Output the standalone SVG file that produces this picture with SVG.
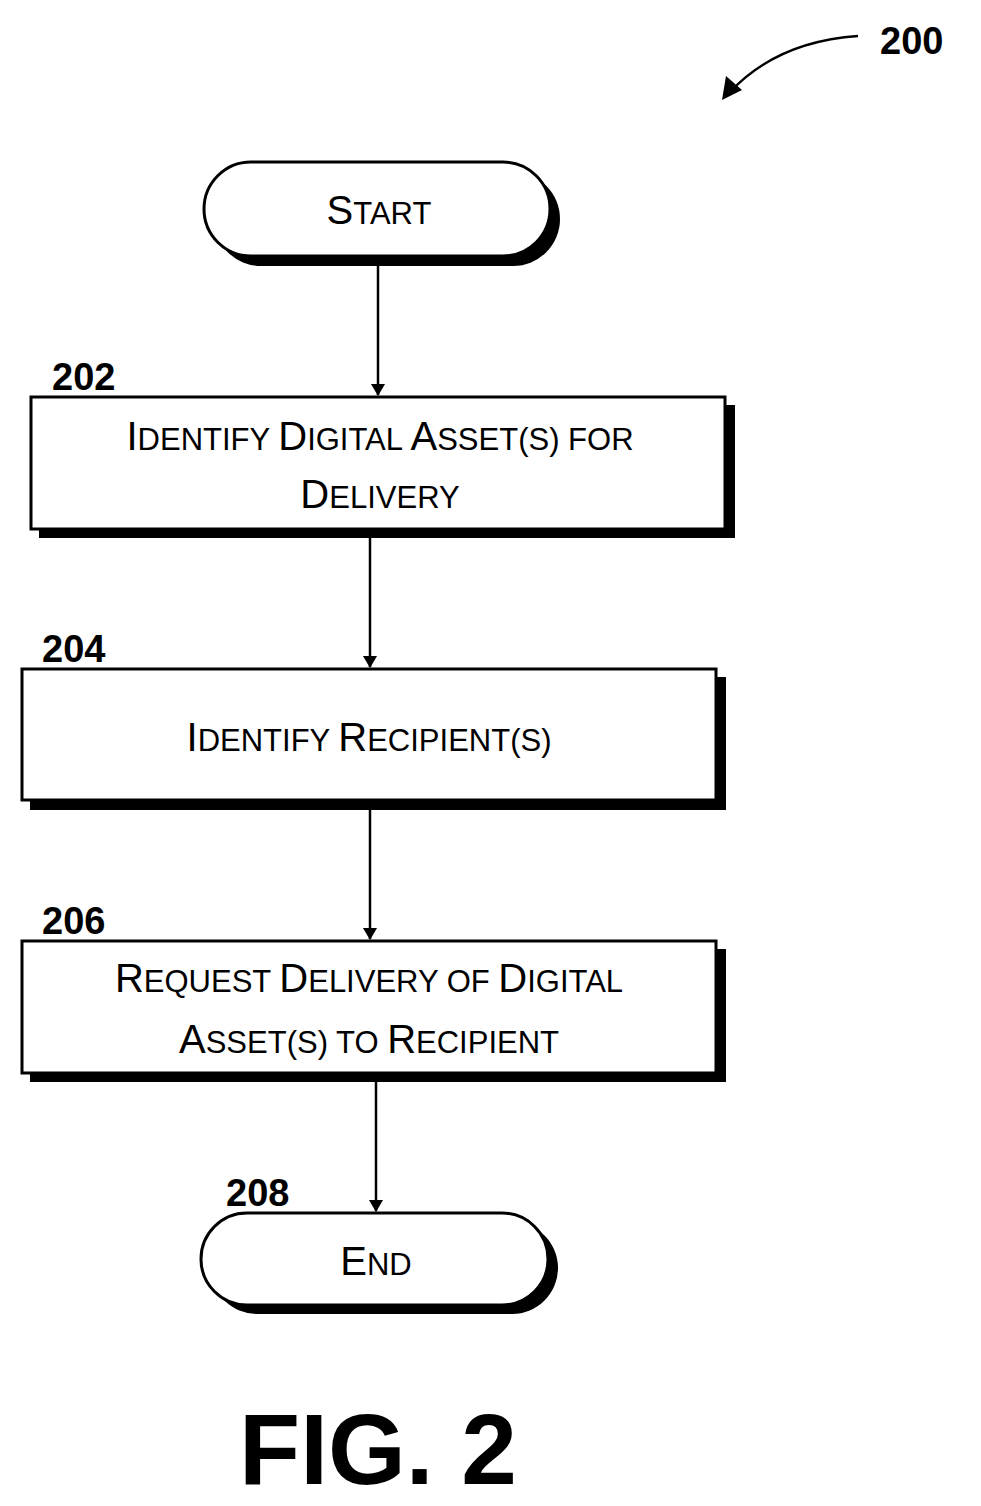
<svg xmlns="http://www.w3.org/2000/svg" width="981" height="1506" viewBox="0 0 981 1506">
<style>
.sh{fill:#000}
.bx{fill:#fff;stroke:#000;stroke-width:3}
.t{font-family:"Liberation Sans",Arial,sans-serif;font-size:40px;text-anchor:middle;fill:#000}
.s{font-size:31px}
.lb{font-family:"Liberation Sans",Arial,sans-serif;font-weight:bold;font-size:38px;fill:#000}
.c{stroke:#000;stroke-width:2.5;fill:none}
</style>
<defs><marker id="a" markerWidth="12" markerHeight="14" refX="11" refY="7" orient="auto" markerUnits="userSpaceOnUse"><path d="M0,0 L12,7 L0,14 Z" fill="#000"/></marker></defs>
<g id="ref200">
<text class="lb" x="880" y="54" font-size="42">200</text>
<path class="c" d="M858,36 C800,40 760,60 730,92" stroke-width="3"/>
<path d="M722,100 L726,76 L742,90 Z" fill="#000"/>
</g>
<g id="start">
<rect class="sh" x="214" y="172" width="346" height="94" rx="47"/>
<rect class="bx" x="204" y="162" width="346" height="94" rx="47"/>
<text class="t" x="379" y="224">S<tspan class="s">TART</tspan></text>
</g>
<g id="n202">
<text class="lb" x="52" y="390">202</text>
<rect class="sh" x="39" y="405" width="696" height="133"/>
<rect class="bx" x="31" y="397" width="694" height="132"/>
<text class="t" x="380" y="450">I<tspan class="s">DENTIFY </tspan>D<tspan class="s">IGITAL </tspan>A<tspan class="s">SSET(S) FOR</tspan></text>
<text class="t" x="380" y="508">D<tspan class="s">ELIVERY</tspan></text>
</g>
<g id="n204">
<text class="lb" x="42" y="662">204</text>
<rect class="sh" x="30" y="677" width="696" height="133"/>
<rect class="bx" x="22" y="669" width="694" height="131"/>
<text class="t" x="369" y="751">I<tspan class="s">DENTIFY </tspan>R<tspan class="s">ECIPIENT(S)</tspan></text>
</g>
<g id="n206">
<text class="lb" x="42" y="934">206</text>
<rect class="sh" x="30" y="949" width="696" height="133"/>
<rect class="bx" x="22" y="941" width="694" height="132"/>
<text class="t" x="369" y="992">R<tspan class="s">EQUEST </tspan>D<tspan class="s">ELIVERY OF </tspan>D<tspan class="s">IGITAL</tspan></text>
<text class="t" x="369" y="1053">A<tspan class="s">SSET(S) TO </tspan>R<tspan class="s">ECIPIENT</tspan></text>
</g>
<g id="end">
<text class="lb" x="226" y="1206">208</text>
<rect class="sh" x="211" y="1222" width="347" height="92" rx="46"/>
<rect class="bx" x="201" y="1213" width="347" height="92" rx="46"/>
<text class="t" x="376" y="1275">E<tspan class="s">ND</tspan></text>
</g>
<g id="connectors">
<line class="c" x1="378" y1="266" x2="378" y2="395" marker-end="url(#a)"/>
<line class="c" x1="370" y1="538" x2="370" y2="667" marker-end="url(#a)"/>
<line class="c" x1="370" y1="810" x2="370" y2="939" marker-end="url(#a)"/>
<line class="c" x1="376" y1="1082" x2="376" y2="1211" marker-end="url(#a)"/>
</g>
<text x="378" y="1484" font-family="Liberation Sans,Arial,sans-serif" font-weight="bold" font-size="100" text-anchor="middle">FIG. 2</text>
</svg>
